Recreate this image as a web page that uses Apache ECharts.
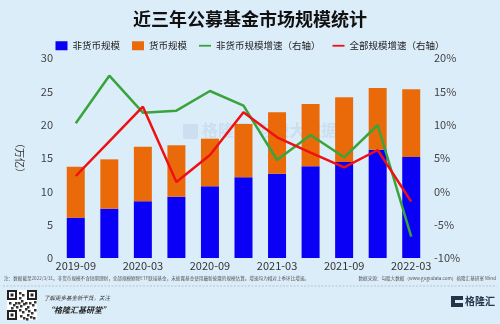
<!DOCTYPE html>
<html>
<head>
<meta charset="utf-8">
<script src="https://cdn.jsdelivr.net/npm/echarts@6/dist/echarts.min.js"></script>
<style>
  html, body { margin: 0; padding: 0; background: #dcedfa; }
  #chart { width: 500px; height: 324px; }
</style>
</head>
<body>
<div id="chart"></div>
<script>
// Quarterly public fund market size (trillion yuan) and QoQ growth (%)
const quarters = ['2019-09', '2019-12', '2020-03', '2020-06', '2020-09', '2020-12',
                  '2021-03', '2021-06', '2021-09', '2021-12', '2022-03'];
const nonMoneySize = [6.05, 7.4, 8.5, 9.2, 10.75, 12.1, 12.65, 13.75, 14.4, 16.25, 15.15];
const moneySize    = [7.65, 7.4, 8.2, 7.7, 7.15, 8.0, 9.2, 9.35, 9.7, 9.25, 10.15];
const nonMoneyGrowth = [10.2, 17.35, 11.8, 12.1, 15.05, 12.85, 4.7, 8.45, 5.1, 9.95, -6.8];
const totalGrowth    = [2.3, 7.5, 12.7, 1.4, 5.45, 11.85, 8.1, 5.8, 3.6, 6.2, -1.55];
const leftTicks = { min: 0, max: 30, interval: 5 };
const rightTicks = { min: -10, max: 20, interval: 5 };

const FONT = '"Noto Sans CJK SC", "Noto Sans", sans-serif';
const chart = echarts.init(document.getElementById('chart'));

// small QR-like emblem built from squares
const qr = [];
const qx = 7, qy = 290, qs = 30;
qr.push({ type: 'rect', shape: { x: qx, y: qy, width: qs, height: qs }, style: { fill: '#ffffff' } });
[[0, 0], [20, 0], [0, 20]].forEach(([dx, dy]) => {
  qr.push({ type: 'rect', shape: { x: qx + dx + 1, y: qy + dy + 1, width: 8, height: 8 }, style: { fill: '#ffffff', stroke: '#222', lineWidth: 2 } });
  qr.push({ type: 'rect', shape: { x: qx + dx + 3.5, y: qy + dy + 3.5, width: 3, height: 3 }, style: { fill: '#222' } });
});
const qrBits = [[12,2],[15,4],[12,7],[14,10],[11,12],[16,13],[2,12],[6,14],[9,16],[13,15],[18,12],[22,12],[25,14],[20,16],[27,11],[12,19],[15,21],[18,18],[21,20],[24,22],[27,19],[13,25],[16,27],[20,24],[23,26],[26,27],[19,28],[4,17],[8,12]];
qrBits.forEach(([dx, dy]) => {
  qr.push({ type: 'rect', shape: { x: qx + dx, y: qy + dy, width: 2.5, height: 2.5 }, style: { fill: '#333' } });
});

chart.setOption({
  backgroundColor: '#dcedfa',
  animation: false,
  textStyle: { fontFamily: FONT },
  title: {
    text: '近三年公募基金市场规模统计',
    left: 'center', top: 5,
    textStyle: { fontSize: 18, fontWeight: 'bold', color: '#111', fontFamily: FONT }
  },
  legend: {
    top: 36, left: 'center',
    itemGap: 12, itemWidth: 12, itemHeight: 9,
    textStyle: { fontSize: 9.5, color: '#222', fontFamily: FONT },
    data: [
      { name: '非货币规模', icon: 'rect' },
      { name: '货币规模', icon: 'rect' },
      { name: '非货币规模增速（右轴）', icon: 'path://M0,0H20V3H0Z' },
      { name: '全部规模增速（右轴）', icon: 'path://M0,0H20V3H0Z' }
    ]
  },
  grid: { left: 59, right: 72, top: 58, bottom: 66 },
  xAxis: {
    type: 'category',
    data: quarters,
    axisLine: { show: false },
    axisTick: { show: false },
    axisLabel: {
      interval: 1, fontSize: 11, color: '#333', margin: 2, fontFamily: FONT
    }
  },
  yAxis: [
    {
      type: 'value', ...leftTicks,
      name: '（万亿）', nameLocation: 'middle', nameGap: 34, nameRotate: -90,
      nameTextStyle: { fontSize: 10, color: '#333', fontFamily: FONT },
      splitLine: { show: false },
      axisLine: { show: false }, axisTick: { show: false },
      axisLabel: { fontSize: 11, color: '#444', margin: 6, fontFamily: FONT }
    },
    {
      type: 'value', ...rightTicks,
      splitLine: { show: false },
      axisLine: { show: false }, axisTick: { show: false },
      axisLabel: { fontSize: 11, color: '#444', margin: 6, formatter: '{value}%', fontFamily: FONT }
    }
  ],
  graphic: [
    // faint watermark
    { type: 'rect', z: 0, shape: { x: 183, y: 124, width: 15, height: 15, r: 2 }, style: { fill: 'rgba(120,150,190,0.16)' } },
    { type: 'text', left: 202, top: 122, z: 0, style: { text: '格隆汇  勾股大数据', fontSize: 16, fontWeight: 'bold', fill: 'rgba(120,150,190,0.16)', fontFamily: FONT } },
    // footnote
    { type: 'text', left: 4, top: 276, style: { text: '注：数据截至2022/3/31。非货币规模不含短期理财，全部规模剔除ETF联接基金，未披露基金使用最新披露的规模估算。增速均为相对上季环比增速。', fontSize: 4.6, fill: '#555', fontFamily: FONT } },
    { type: 'text', right: 4, top: 276, style: { text: '数据来源：勾股大数据（www.gogudata.com）格隆汇基研室 Wind', fontSize: 4.6, fill: '#555', fontFamily: FONT } },
    { type: 'line', shape: { x1: 3, y1: 286, x2: 497, y2: 286 }, style: { stroke: '#9aaabb', lineWidth: 0.6, lineDash: [2, 1.5] } },
    ...qr,
    { type: 'text', left: 44, top: 295, style: { text: '了解更多基金新干货，关注', fontSize: 5.5, fontStyle: 'italic', fill: '#333', fontFamily: FONT } },
    { type: 'text', left: 46, top: 306, style: { text: '“格隆汇基研堂”', fontSize: 8, fontWeight: 'bold', fontStyle: 'italic', fill: '#222', fontFamily: FONT } },
    // brand mark
    { type: 'rect', shape: { x: 451, y: 296, width: 12, height: 11 }, style: { fill: '#253448' } },
    { type: 'rect', shape: { x: 455, y: 300, width: 8, height: 3 }, style: { fill: '#dcedfa' } },
    { type: 'text', left: 465, top: 296, style: { text: '格隆汇', fontSize: 10, fontWeight: 'bold', fill: '#253448', fontFamily: FONT } }
  ],
  series: [
    {
      name: '非货币规模', type: 'bar', stack: 'size', barWidth: 18,
      itemStyle: { color: '#0a00f5' },
      data: nonMoneySize
    },
    {
      name: '货币规模', type: 'bar', stack: 'size', barWidth: 18,
      itemStyle: { color: '#ea6a0a' },
      data: moneySize
    },
    {
      name: '非货币规模增速（右轴）', type: 'line', yAxisIndex: 1,
      symbol: 'none', lineStyle: { color: '#38a43a', width: 2.5 }, itemStyle: { color: '#38a43a' },
      data: nonMoneyGrowth
    },
    {
      name: '全部规模增速（右轴）', type: 'line', yAxisIndex: 1,
      symbol: 'none', lineStyle: { color: '#ee1111', width: 2.5 }, itemStyle: { color: '#ee1111' },
      data: totalGrowth
    }
  ]
});
</script>
</body>
</html>
